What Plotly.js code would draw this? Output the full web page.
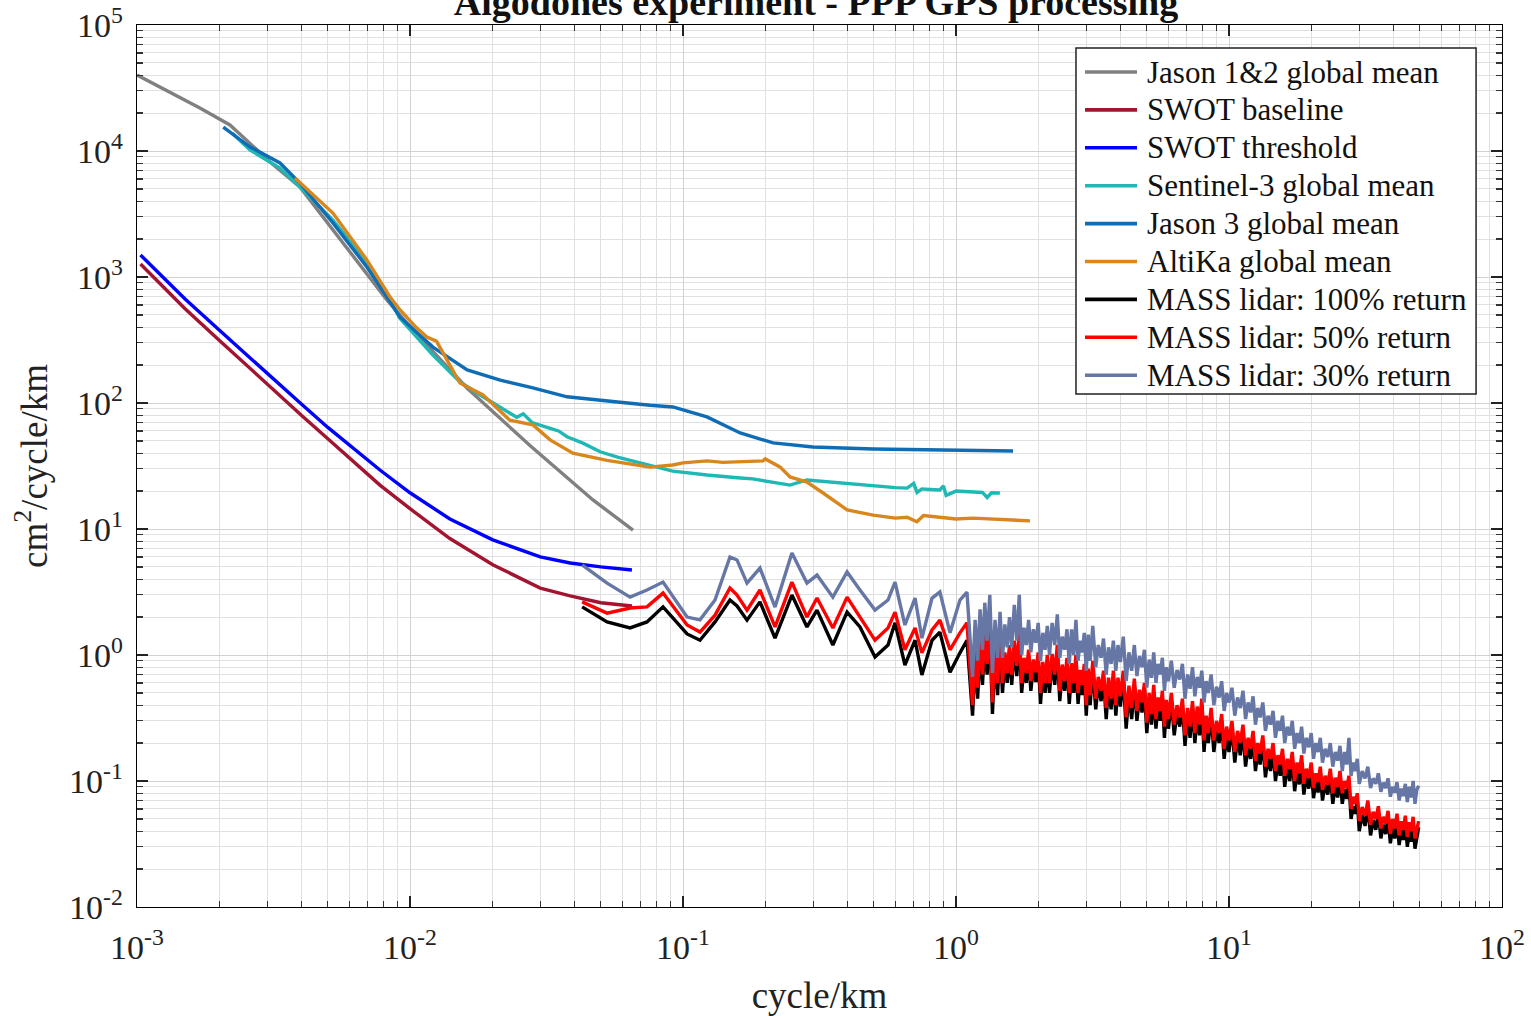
<!DOCTYPE html>
<html>
<head>
<meta charset="utf-8">
<script src="https://cdn.plot.ly/plotly-3.0.1.min.js"></script>
<style>html,body{margin:0;padding:0;background:#fff}#chart{width:1531px;height:1016px}</style>
</head>
<body>
<div id="chart"></div>
<script>
// ---- Data (cycle/km vs cm^2/cycle/km) ----
const jason12_x = [0.001, 0.0017, 0.00219, 0.00307, 0.00395, 0.00522, 0.00695, 0.00824, 0.01026, 0.0162, 0.0275, 0.0468, 0.0656];
const jason12_y = [40100, 21900, 16100, 8190, 5180, 2360, 1077, 656, 379, 131, 46, 17, 9.8];

const swot_x = [0.00103, 0.0015, 0.002, 0.003, 0.004, 0.005, 0.00776, 0.01, 0.014, 0.0201, 0.03, 0.0386, 0.05, 0.065];
const swot_baseline_y = [1268, 560, 315, 140, 80, 52, 22.3, 14.5, 8.4, 5.2, 3.4, 2.95, 2.6, 2.45];
const swot_threshold_y = [1496, 670, 380, 170, 98, 64, 29.4, 19.4, 12.0, 8.2, 6.0, 5.37, 5.0, 4.73];

const sentinel3_x = [0.00223, 0.00259, 0.00334, 0.00395, 0.00522, 0.00695, 0.00824, 0.00918, 0.01213, 0.01524, 0.0185, 0.0215, 0.0246, 0.026, 0.028, 0.0326, 0.035, 0.0376, 0.043, 0.0497, 0.058, 0.0757, 0.0918, 0.1224, 0.14, 0.162, 0.18, 0.214, 0.2466, 0.2845, 0.33, 0.376, 0.43, 0.497, 0.55, 0.6, 0.662, 0.7, 0.72, 0.75, 0.8, 0.873, 0.9, 0.92, 1.0, 1.153, 1.25, 1.3, 1.35, 1.448];
const sentinel3_y = [13900, 10200, 7330, 5180, 2830, 1315, 720, 470, 240, 147, 112, 92, 77, 82, 70, 63, 60, 54, 48, 41, 37, 32, 28.8, 26.8, 26, 25.4, 25, 23.6, 22.3, 24.5, 23.8, 23.2, 22.5, 21.9, 21.6, 21.3, 21.1, 23, 19.5, 20.8, 20.6, 20.4, 22, 18.5, 20.0, 19.7, 19.5, 17.8, 19.4, 19.3];

const jason3_x = [0.00207, 0.00259, 0.00334, 0.00395, 0.00522, 0.00695, 0.00824, 0.00918, 0.01213, 0.0162, 0.0214, 0.0282, 0.0376, 0.0497, 0.06, 0.0757, 0.0918, 0.1224, 0.162, 0.214, 0.299, 0.497, 0.873, 1.618];
const jason3_y = [15500, 10800, 8040, 5570, 2690, 1200, 694, 482, 278, 183, 152, 132, 112, 106, 101, 96, 93, 77.5, 57.8, 48.2, 44.8, 43.2, 42.4, 41.6];

const altika_x = [0.00379, 0.00522, 0.00695, 0.00845, 0.0092, 0.0105, 0.01153, 0.0125, 0.01367, 0.01524, 0.0185, 0.0232, 0.0282, 0.0326, 0.0395, 0.0527, 0.0757, 0.0918, 0.1, 0.1224, 0.14, 0.162, 0.1963, 0.2, 0.2265, 0.2466, 0.2845, 0.326, 0.399, 0.497, 0.6, 0.662, 0.719, 0.76, 0.873, 1.0, 1.153, 1.4, 1.866];
const altika_y = [6110, 3220, 1365, 694, 547, 400, 334, 310, 219, 144, 116, 73, 67, 51, 40, 35, 31, 32.2, 33.5, 34.7, 33.8, 34, 34.7, 36, 31.1, 25.9, 23.6, 19.3, 14.2, 12.9, 12.2, 12.4, 11.4, 12.8, 12.4, 12.0, 12.2, 11.9, 11.6];

// MASS lidar spectra: shared frequencies (low-frequency part, then the dense noisy part)
const mass_x = [0.0427, 0.0527, 0.064, 0.0738, 0.0845, 0.1035, 0.1154, 0.131, 0.1486, 0.1577, 0.1716, 0.1914, 0.2173, 0.2506, 0.2845, 0.3096, 0.354, 0.399, 0.4449, 0.505, 0.5636, 0.598, 0.65, 0.708, 0.75, 0.817, 0.873, 0.951, 1.034, 1.097,
  1.15, 1.175, 1.2, 1.225, 1.25, 1.275, 1.3, 1.33, 1.36, 1.39, 1.42, 1.45, 1.48, 1.51, 1.54, 1.57, 1.6, 1.635, 1.67, 1.705,
  1.74, 1.775, 1.81, 1.845, 1.88, 1.92, 1.96, 2.0, 2.04, 2.08, 2.12, 2.16, 2.2, 2.25, 2.3, 2.35, 2.4, 2.45, 2.5, 2.55,
  2.6, 2.65, 2.7, 2.75, 2.8, 2.85, 2.9, 2.95, 3.0, 3.05, 3.1, 3.17, 3.25, 3.32, 3.4, 3.47, 3.55, 3.62, 3.7, 3.77,
  3.85, 3.92, 4.0, 4.1, 4.2, 4.3, 4.4, 4.5, 4.6, 4.7, 4.8, 4.9, 5.0, 5.1, 5.2, 5.3, 5.4, 5.5, 5.6, 5.7,
  5.8, 5.9, 6.0, 6.15, 6.3, 6.45, 6.6, 6.75, 6.9, 7.05, 7.2, 7.35, 7.5, 7.65, 7.8, 7.95, 8.1, 8.25, 8.4, 8.6,
  8.8, 9.0, 9.2, 9.4, 9.6, 9.8, 10, 10.25, 10.5, 10.75, 11, 11.25, 11.5, 11.75, 12, 12.25, 12.5, 12.75, 13, 13.3,
  13.6, 13.9, 14.2, 14.5, 14.8, 15.1, 15.4, 15.7, 16, 16.35, 16.7, 17.05, 17.4, 17.75, 18.1, 18.45, 18.8, 19.2, 19.6, 20.0,
  20.4, 20.8, 21.2, 21.6, 22, 22.5, 23, 23.5, 24, 24.5, 25, 25.5, 26, 26.5, 27, 27.5, 28, 28.5, 29, 29.5,
  30, 30.75, 31.5, 32.25, 33, 33.75, 34.5, 35.25, 36, 36.75, 37.5, 38.25, 39, 39.75, 40.5, 41.25, 42, 42.75, 43.5, 44.25,
  45, 45.75, 46.5, 47.25, 48, 48.75, 49.5];

const mass100_y = [2.41, 1.83, 1.64, 1.83, 2.41, 1.47, 1.31, 1.83, 2.73, 2.45, 1.89, 2.64, 1.36, 2.99, 1.67, 2.27, 1.2, 2.19, 1.67, 0.964, 1.2, 1.8, 0.833, 1.31, 0.694, 1.31, 1.52, 0.73, 1.04, 1.31,
  0.33, 0.95, 0.45, 1.15,  0.58, 1.28, 0.7, 1.5,  0.34, 1.05, 0.48, 1.25,  0.5, 0.92, 0.6, 1.05,  0.58, 1.15, 0.68, 1.35,
  0.5, 0.84, 0.6, 0.98,  0.52, 0.81, 0.61, 0.93,  0.41, 0.77, 0.5, 0.88,  0.5, 0.9, 0.58, 1.05,  0.43, 0.74, 0.52, 0.85,
  0.41, 0.76, 0.5, 0.88,  0.41, 0.67, 0.48, 0.76,  0.33, 0.69, 0.4, 0.8,  0.37, 0.59, 0.43, 0.67,  0.31, 0.58, 0.37, 0.67,
  0.33, 0.58, 0.39, 0.66,  0.26, 0.5, 0.31, 0.58,  0.3, 0.47, 0.35, 0.53,  0.24, 0.44, 0.28, 0.51,  0.26, 0.41, 0.3, 0.46,
  0.22, 0.39, 0.26, 0.44,  0.23, 0.35, 0.27, 0.4,  0.19, 0.33, 0.22, 0.38,  0.2, 0.34, 0.23, 0.4,  0.17, 0.29, 0.2, 0.34,
  0.17, 0.26, 0.2, 0.3,  0.15, 0.23, 0.17, 0.27,  0.14, 0.22, 0.16, 0.25,  0.13, 0.19, 0.15, 0.22,  0.12, 0.175, 0.135, 0.2,
  0.107, 0.155, 0.12, 0.18,  0.1, 0.14, 0.11, 0.16,  0.09, 0.13, 0.1, 0.15,  0.083, 0.12, 0.094, 0.14,  0.078, 0.108, 0.087, 0.125,
  0.073, 0.1, 0.081, 0.115,  0.07, 0.095, 0.078, 0.11,  0.066, 0.092, 0.074, 0.105,  0.066, 0.086, 0.072, 0.098,  0.05, 0.063, 0.055, 0.071,
  0.04, 0.054, 0.044, 0.062,  0.037, 0.049, 0.041, 0.056,  0.035, 0.045, 0.038, 0.051,  0.032, 0.043, 0.035, 0.049,  0.031, 0.041, 0.034, 0.047,
  0.03, 0.04, 0.033, 0.046,  0.029, 0.037, 0.043];

const mass50_y = [2.64, 2.15, 2.36, 2.41, 3.10, 1.73, 1.52, 2.07, 3.40, 2.99, 2.27, 3.28, 1.67, 3.79, 2.0, 2.83, 1.64, 2.88, 2.0, 1.31, 1.64, 2.19, 1.10, 1.64, 1.04, 1.58, 1.89, 1.10, 1.50, 1.80,
  0.40, 1.1, 0.55, 1.3,  0.7, 1.45, 0.85, 1.7,  0.42, 1.2, 0.6, 1.4,  0.6, 1.05, 0.72, 1.2,  0.7, 1.3, 0.82, 1.5,
  0.6, 0.95, 0.72, 1.1,  0.62, 0.92, 0.73, 1.05,  0.5, 0.88, 0.6, 1.0,  0.6, 1.02, 0.7, 1.2,  0.52, 0.84, 0.62, 0.95,
  0.5, 0.86, 0.6, 1.0,  0.5, 0.76, 0.58, 0.85,  0.4, 0.78, 0.48, 0.9,  0.45, 0.67, 0.52, 0.75,  0.38, 0.66, 0.45, 0.75,
  0.4, 0.66, 0.47, 0.75,  0.32, 0.57, 0.38, 0.65,  0.36, 0.53, 0.42, 0.6,  0.29, 0.5, 0.34, 0.58,  0.31, 0.46, 0.36, 0.52,
  0.27, 0.44, 0.31, 0.5,  0.28, 0.4, 0.32, 0.45,  0.23, 0.38, 0.27, 0.43,  0.24, 0.39, 0.28, 0.45,  0.21, 0.33, 0.24, 0.38,
  0.21, 0.3, 0.24, 0.34,  0.18, 0.27, 0.21, 0.3,  0.17, 0.25, 0.2, 0.28,  0.16, 0.22, 0.18, 0.25,  0.145, 0.2, 0.165, 0.23,
  0.13, 0.18, 0.15, 0.2,  0.12, 0.16, 0.135, 0.18,  0.11, 0.15, 0.125, 0.17,  0.1, 0.14, 0.115, 0.16,  0.095, 0.125, 0.105, 0.14,
  0.088, 0.115, 0.098, 0.13,  0.085, 0.11, 0.094, 0.125,  0.08, 0.106, 0.09, 0.12,  0.08, 0.1, 0.088, 0.11,  0.06, 0.075, 0.066, 0.08,
  0.048, 0.062, 0.053, 0.07,  0.045, 0.057, 0.05, 0.063,  0.042, 0.052, 0.046, 0.058,  0.038, 0.05, 0.042, 0.055,  0.037, 0.048, 0.041, 0.053,
  0.036, 0.047, 0.04, 0.052,  0.035, 0.043, 0.048];

const mass30_y = [5.18, 3.72, 2.88, 3.28, 3.79, 2.0, 1.90, 2.73, 6.0, 5.68, 3.72, 4.90, 2.40, 6.45, 3.72, 4.31, 2.88, 4.56, 3.28, 2.27, 2.73, 3.79, 1.73, 2.83, 1.36, 2.83, 3.16, 1.50, 2.73, 3.16,
  0.67, 1.9, 0.9, 2.3,  1.1, 2.6, 1.3, 3.0,  0.72, 1.9, 0.95, 2.2,  0.95, 1.75, 1.15, 2.0,  1.15, 2.5, 1.3, 3.0,
  1.0, 1.65, 1.2, 1.9,  1.05, 1.6, 1.25, 1.8,  0.9, 1.5, 1.1, 1.7,  1.0, 1.8, 1.2, 2.1,  0.95, 1.4, 1.1, 1.6,
  0.85, 1.6, 1.0, 1.9,  0.9, 1.3, 1.05, 1.5,  0.75, 1.45, 0.9, 1.7,  0.8, 1.2, 0.95, 1.35,  0.7, 1.15, 0.85, 1.3,
  0.75, 1.2, 0.88, 1.4,  0.62, 1.05, 0.75, 1.2,  0.68, 0.98, 0.8, 1.1,  0.55, 0.92, 0.66, 1.05,  0.6, 0.85, 0.7, 0.95,
  0.52, 0.8, 0.62, 0.9,  0.55, 0.76, 0.64, 0.85,  0.45, 0.7, 0.54, 0.8,  0.47, 0.67, 0.55, 0.75,  0.42, 0.62, 0.5, 0.7,
  0.4, 0.56, 0.46, 0.62,  0.36, 0.5, 0.42, 0.55,  0.33, 0.46, 0.38, 0.52,  0.31, 0.42, 0.35, 0.47,  0.28, 0.38, 0.32, 0.42,
  0.25, 0.33, 0.28, 0.36,  0.22, 0.3, 0.25, 0.33,  0.2, 0.27, 0.23, 0.3,  0.18, 0.24, 0.2, 0.27,  0.165, 0.22, 0.185, 0.24,
  0.15, 0.2, 0.17, 0.22,  0.14, 0.18, 0.155, 0.2,  0.13, 0.17, 0.145, 0.19,  0.12, 0.17, 0.135, 0.22,  0.11, 0.14, 0.12, 0.15,
  0.095, 0.12, 0.105, 0.13,  0.088, 0.105, 0.095, 0.115,  0.082, 0.097, 0.088, 0.105,  0.075, 0.09, 0.081, 0.098,  0.07, 0.087, 0.076, 0.095,
  0.068, 0.09, 0.074, 0.1,  0.066, 0.085, 0.092];

const series_names = ["Jason 1&2 global mean", "SWOT baseline", "SWOT threshold", "Sentinel-3 global mean", "Jason 3 global mean", "AltiKa global mean", "MASS lidar: 100% return", "MASS lidar: 50% return", "MASS lidar: 30% return"];
const series_colors = ["#808080", "#A2142F", "#0000FF", "#1FB8B4", "#0F6DB6", "#D9861C", "#000000", "#FF0000", "#6677A6"];

const xTickVals = [0.001, 0.01, 0.1, 1, 10, 100];
const xTickText = ["10<sup>-3</sup>", "10<sup>-2</sup>", "10<sup>-1</sup>", "10<sup>0</sup>", "10<sup>1</sup>", "10<sup>2</sup>"];
const yTickVals = [0.01, 0.1, 1, 10, 100, 1000, 10000, 100000];
const yTickText = ["10<sup>-2</sup>", "10<sup>-1</sup>", "10<sup>0</sup>", "10<sup>1</sup>", "10<sup>2</sup>", "10<sup>3</sup>", "10<sup>4</sup>", "10<sup>5</sup>"];

// ---- Build traces ----
const xs = [jason12_x, swot_x, swot_x, sentinel3_x, jason3_x, altika_x, mass_x, mass_x, mass_x];
const ys = [jason12_y, swot_baseline_y, swot_threshold_y, sentinel3_y, jason3_y, altika_y, mass100_y, mass50_y, mass30_y];
const traces = xs.map((x, i) => ({
  x: x, y: ys[i], type: "scatter", mode: "lines", name: series_names[i], showlegend: false,
  line: {color: series_colors[i], width: 3.4}
}));

function minorVals(lo, hi) {
  const v = [];
  for (let e = lo; e < hi; e++) for (let m = 2; m <= 9; m++) v.push(m * Math.pow(10, e));
  return v;
}

const FONT = "Liberation Serif, Times New Roman, serif";

// ---- Legend drawn as shapes + annotations (paper coordinates) ----
const legBox = {x0: 0.6879, x1: 0.9810, y0: 0.5816, y1: 0.9739};
const legRowTop = 0.9467, legRowStep = 0.04297;
const shapes = [{type: "rect", xref: "paper", yref: "paper", x0: legBox.x0, x1: legBox.x1, y0: legBox.y0, y1: legBox.y1,
  fillcolor: "#fff", line: {color: "#222", width: 1.5}, layer: "above"}];
const annotations = [];
series_names.forEach((name, i) => {
  const yy = legRowTop - i * legRowStep;
  shapes.push({type: "line", xref: "paper", yref: "paper", x0: 0.6945, x1: 0.7326, y0: yy, y1: yy,
    line: {color: series_colors[i], width: 3.6}, layer: "above"});
  annotations.push({xref: "paper", yref: "paper", x: 0.7385, y: yy, xanchor: "left", yanchor: "middle",
    text: name, showarrow: false, font: {family: FONT, size: 31, color: "#111"}});
});

const axisCommon = {
  type: "log", showline: true, linecolor: "#000", linewidth: 1.3, mirror: "ticks",
  ticks: "inside", ticklen: 11, tickwidth: 1.2, tickcolor: "#222",
  showgrid: true, gridcolor: "#d2d2d2", gridwidth: 1, zeroline: false,
  tickfont: {family: FONT, size: 34, color: "#222"}, tickmode: "array"
};

const layout = {
  width: 1531, height: 1016,
  paper_bgcolor: "#fff", plot_bgcolor: "#fff",
  margin: {l: 137, r: 29, t: 25, b: 109},
  font: {family: FONT, color: "#222"},
  showlegend: false,
  shapes: shapes,
  annotations: annotations,
  title: {text: "<b>Algodones experiment - PPP GPS processing</b>", font: {family: FONT, size: 38, color: "#111"},
          x: 0.533, xanchor: "center", y: 0.998, yref: "container", yanchor: "middle"},
  xaxis: Object.assign({}, axisCommon, {
    range: [-3, 2], tickvals: xTickVals, ticktext: xTickText, ticklabelstandoff: 10,
    minor: {tickvals: minorVals(-3, 2), ticks: "inside", ticklen: 6, tickcolor: "#333", showgrid: true, gridcolor: "#e0e0e0", gridwidth: 1},
    title: {text: "cycle/km", font: {family: FONT, size: 37, color: "#222"}, standoff: 18}
  }),
  yaxis: Object.assign({}, axisCommon, {
    range: [-2, 5], tickvals: yTickVals, ticktext: yTickText, ticklabelstandoff: 6,
    minor: {tickvals: minorVals(-2, 5), ticks: "inside", ticklen: 6, tickcolor: "#333", showgrid: true, gridcolor: "#e0e0e0", gridwidth: 1},
    title: {text: "cm<sup>2</sup>/cycle/km", font: {family: FONT, size: 37, color: "#222"}, standoff: 10}
  })
};

Plotly.newPlot("chart", traces, layout, {displayModeBar: false, staticPlot: true});
</script>
</body>
</html>
